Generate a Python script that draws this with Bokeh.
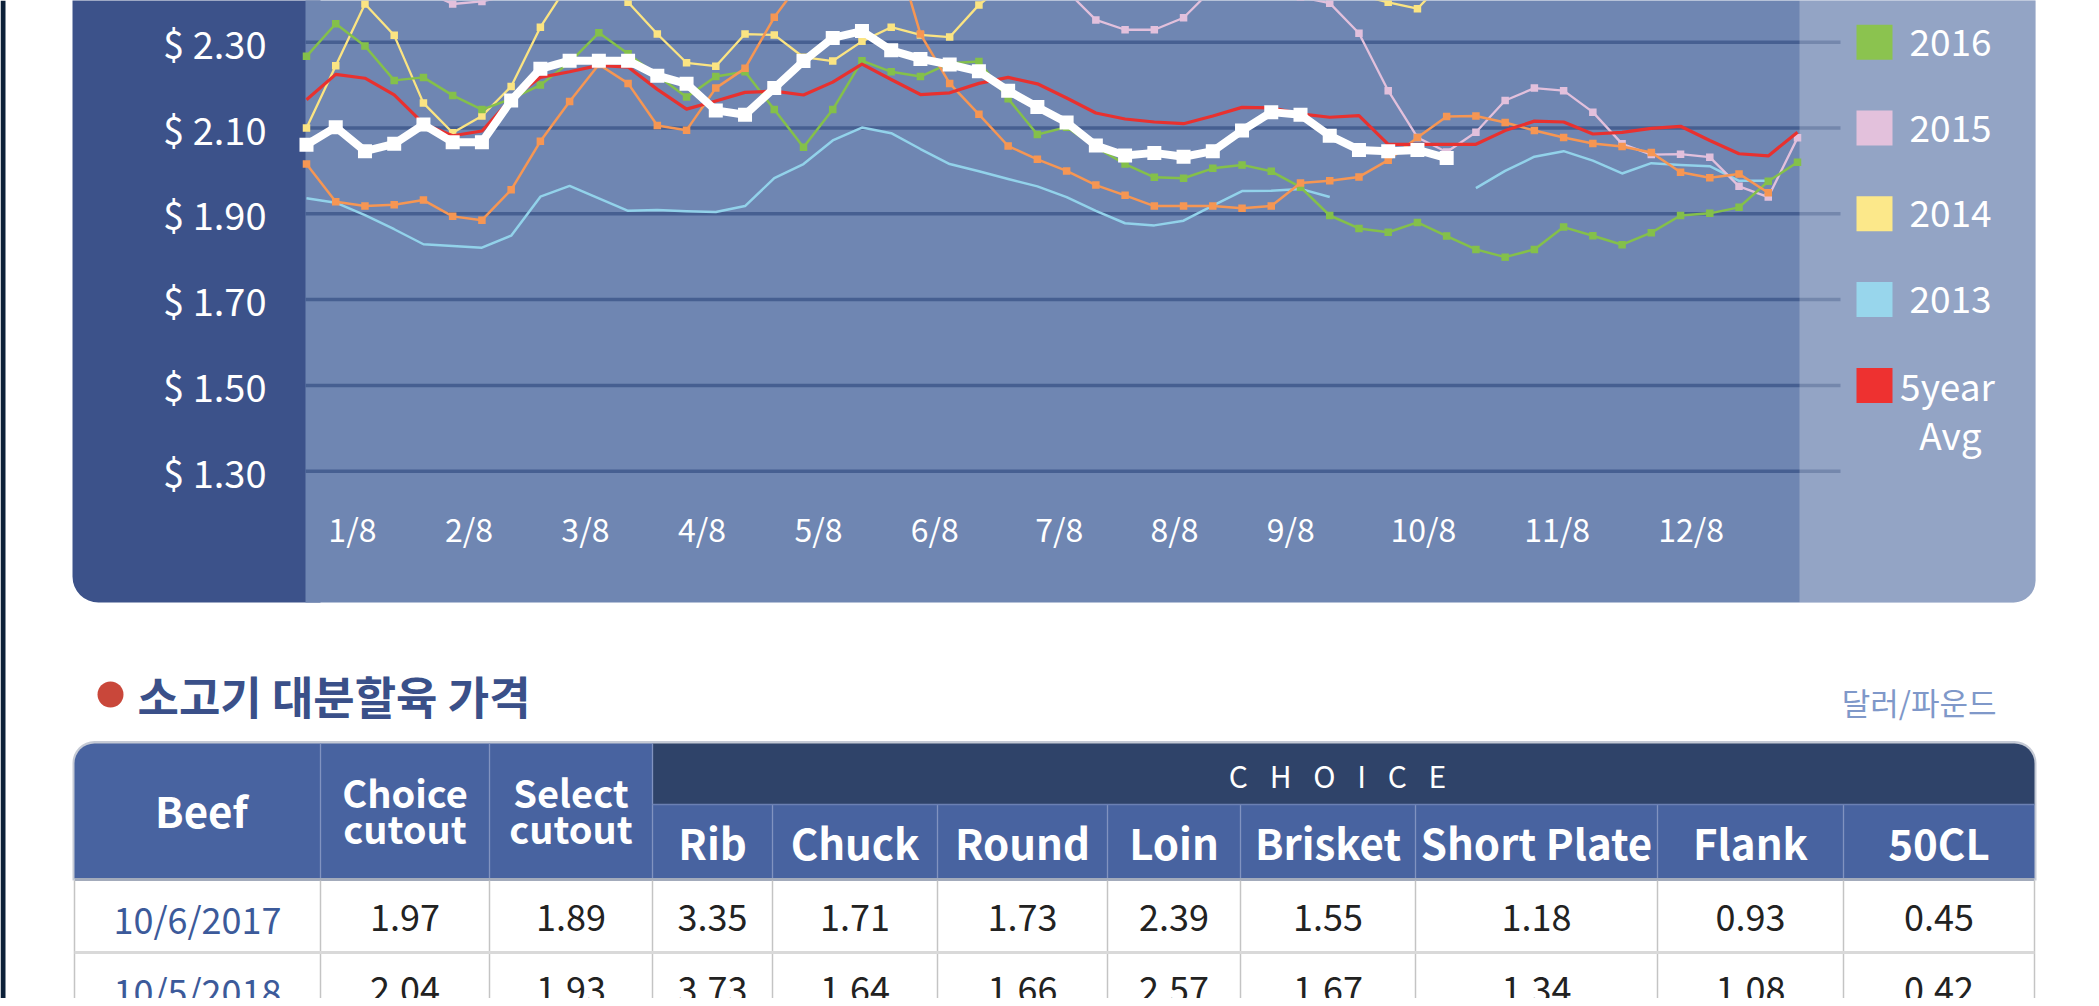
from bokeh.plotting import figure
from bokeh.models import Range1d
from bokeh.embed import file_html
from bokeh.resources import INLINE
from bokeh.core.properties import value

NaN = float("nan")
FONT = "Noto Sans CJK KR"

# ---------------- data ----------------
weeks = list(range(52))
month_labels = ["1/8", "2/8", "3/8", "4/8", "5/8", "6/8", "7/8", "8/8", "9/8", "10/8", "11/8", "12/8"]
month_pos = [1.57, 5.56, 9.54, 13.53, 17.51, 21.49, 25.75, 29.69, 33.67, 38.2, 42.78, 47.36]
price_ticks = [2.30, 2.10, 1.90, 1.70, 1.50, 1.30]
price_labels = ["$ 2.30", "$ 2.10", "$ 1.90", "$ 1.70", "$ 1.50", "$ 1.30"]

s2018 = [2.061, 2.102, 2.046, 2.063, 2.108, 2.067, 2.067, 2.164, 2.238, 2.257,
         2.257, 2.257, 2.222, 2.203, 2.141, 2.131, 2.193, 2.256, 2.310, 2.326,
         2.281, 2.261, 2.248, 2.232, 2.187, 2.149, 2.113, 2.059, 2.036, 2.042,
         2.033, 2.046, 2.094, 2.137, 2.131, 2.082, 2.049, 2.046, 2.049, 2.030] + [NaN] * 12
s2017 = [2.016, 1.928, 1.918, 1.921, 1.932, 1.894, 1.885, 1.956, 2.069, 2.162,
         2.248, 2.204, 2.106, 2.095, 2.193, 2.239, 2.358, 2.450, 2.550, 2.600,
         2.550, 2.319, 2.204, 2.132, 2.058, 2.027, 2.000, 1.967, 1.943, 1.918,
         1.918, 1.918, 1.913, 1.918, 1.972, 1.977, 1.986, 2.025, 2.078, 2.127,
         2.128, 2.113, 2.094, 2.078, 2.064, 2.057, 2.043, 1.997, 1.984, 1.993,
         1.949, NaN]
s2016 = [2.267, 2.343, 2.291, 2.211, 2.218, 2.176, 2.143, 2.168, 2.200, 2.253,
         2.322, 2.273, 2.222, 2.172, 2.220, 2.231, 2.143, 2.055, 2.143, 2.257,
         2.231, 2.220, 2.251, 2.255, 2.168, 2.085, 2.102, 2.055, 2.016, 1.985,
         1.983, 2.006, 2.014, 1.999, 1.962, 1.896, 1.866, 1.857, 1.880, 1.848,
         1.817, 1.799, 1.817, 1.869, 1.849, 1.828, 1.856, 1.896, 1.901, 1.915,
         1.976, 2.020]
s2015 = [2.450, 2.460, 2.470, 2.450, 2.420, 2.389, 2.395, 2.410, 2.450, 2.480,
         2.500, 2.520, 2.530, 2.540, 2.550, 2.560, 2.560, 2.550, 2.540, 2.530,
         2.520, 2.510, 2.500, 2.490, 2.470, 2.450, 2.420, 2.352, 2.329, 2.329,
         2.357, 2.425, 2.450, 2.440, 2.405, 2.391, 2.321, 2.187, 2.078, 2.044,
         2.090, 2.164, 2.193, 2.187, 2.137, 2.063, 2.038, 2.039, 2.032, 1.964,
         1.939, 2.077]
s2014 = [2.100, 2.245, 2.389, 2.316, 2.158, 2.089, 2.128, 2.197, 2.335, 2.440,
         2.450, 2.393, 2.319, 2.252, 2.244, 2.319, 2.317, 2.265, 2.256, 2.302,
         2.335, 2.317, 2.312, 2.387, 2.440, 2.480, 2.500, 2.520, 2.520, 2.500,
         2.480, 2.470, 2.460, 2.450, 2.430, 2.420, 2.410, 2.393, 2.378, 2.450,
         2.480, 2.500, 2.520, 2.540, 2.550, 2.560, 2.560, 2.550, 2.540, 2.530,
         2.520, 2.510]
s2013 = [1.936, 1.926, 1.897, 1.864, 1.829, 1.825, 1.821, 1.849, 1.940, 1.965,
         1.936, 1.907, 1.909, 1.906, 1.904, 1.918, 1.983, 2.016, 2.071, 2.101,
         2.088, 2.051, 2.016, 1.999, 1.981, 1.964, 1.939, 1.907, 1.878, 1.873,
         1.884, 1.919, 1.953, 1.954, 1.958, 1.939, NaN, NaN, NaN, NaN,
         1.960, 2.000, 2.033, 2.046, 2.024, 1.994, 2.018, 2.014, 2.011, 1.977,
         1.977, NaN]
s5yr = [2.166, 2.225, 2.216, 2.177, 2.110, 2.082, 2.093, 2.168, 2.218, 2.231,
        2.246, 2.242, 2.190, 2.144, 2.163, 2.183, 2.186, 2.177, 2.207, 2.249,
        2.213, 2.178, 2.182, 2.204, 2.218, 2.203, 2.170, 2.135, 2.121, 2.114,
        2.110, 2.128, 2.148, 2.147, 2.133, 2.125, 2.129, 2.062, 2.062, 2.062,
        2.062, 2.094, 2.116, 2.114, 2.086, 2.090, 2.099, 2.104, 2.071, 2.040,
        2.035, 2.090]

legend_labels = ["2016", "2015", "2014", "2013"]
legend_colors = ["#8bc34f", "#e3c1dc", "#fce88a", "#98d6ec"]
avg_label = ["5year", "Avg"]

table_head = ["Beef", "Choice cutout", "Select cutout", "Rib", "Chuck", "Round", "Loin",
              "Brisket", "Short Plate", "Flank", "50CL"]
row_dates = ["10/6/2017", "10/5/2018"]
row_2017 = [1.97, 1.89, 3.35, 1.71, 1.73, 2.39, 1.55, 1.18, 0.93, 0.45]
row_2018 = [2.04, 1.93, 3.73, 1.64, 1.66, 2.57, 1.67, 1.34, 1.08, 0.42]

# ---------------- layout (picture pixels) ----------------
W, H = 2091, 998
X0_PX, X51_PX = 306.0, 1797.0          # week 0 / week 51
Y230_PX, PX_PER_DOLLAR = 41.7, 429.0    # $2.30 gridline, scale
ppw = (X51_PX - X0_PX) / 51.0

x_start = -X0_PX / ppw
x_end = 51 + (W - X51_PX) / ppw
y_top = 2.30 + Y230_PX / PX_PER_DOLLAR
y_bot = 2.30 - (H - Y230_PX) / PX_PER_DOLLAR

p = figure(width=W, height=H, x_range=Range1d(x_start, x_end),
           y_range=Range1d(y_bot, y_top), output_backend="svg", toolbar_location=None,
           min_border=0, x_axis_location=None, y_axis_location=None, title=None)
p.grid.visible = False
p.outline_line_color = None
p.background_fill_color = "white"
p.border_fill_color = "white"
p.extra_x_ranges = {"px": Range1d(0, W)}
p.extra_y_ranges = {"px": Range1d(H, 0)}
PX = dict(x_range_name="px", y_range_name="px")

# page edge strip
p.quad(left=[0], right=[5], top=[0], bottom=[H], fill_color="#0c2038", line_color=None, **PX)

# ---------------- chart panel ----------------
p.quad(left=[72], right=[320], top=[-5], bottom=[602], fill_color="#3c528a", line_color=None,
       border_radius=(0, 0, 0, 26), **PX)
p.quad(left=[305], right=[2035], top=[-5], bottom=[602], fill_color="#6f86b2", line_color=None,
       border_radius=(0, 0, 22, 0), **PX)

grid_x0 = (305 - X0_PX) / ppw
grid_x1 = (1840 - X0_PX) / ppw
p.segment(x0=[grid_x0] * len(price_ticks), x1=[grid_x1] * len(price_ticks),
          y0=price_ticks, y1=price_ticks, line_color="#465f91", line_width=3.5)

# legend strip (lighter overlay)
p.quad(left=[1799], right=[2035], top=[-5], bottom=[602], fill_color="white", fill_alpha=0.25,
       line_color=None, border_radius=(0, 0, 22, 0), **PX)

# series
def series(vals, color, lw, msize=None):
    p.line(weeks, vals, line_color=color, line_width=lw, line_join="round")
    if msize:
        p.scatter(weeks, vals, marker="square", size=msize, fill_color=color, line_color=None)

series(s2013, "#92d2ea", 2.5)
series(s2014, "#fbe482", 2.3, 7.5)
series(s2015, "#e2c0dc", 2.3, 7.5)
series(s2016, "#84c04a", 2.5, 7.5)
series(s2017, "#f69653", 2.5, 7.5)
series(s5yr, "#e8312f", 3.2)
series(s2018, "white", 8, 14)

# axis labels
p.text(x=[266] * len(price_ticks), y=price_ticks, text=price_labels, x_range_name="px",
       text_align="right", text_baseline="middle", text_color="white",
       text_font=value(FONT), text_font_size="38px")
p.text(x=month_pos, y=[527] * len(month_pos), text=month_labels, y_range_name="px",
       text_align="center", text_baseline="middle", text_color="white",
       text_font=value(FONT), text_font_size="32px")

# legend
leg_y = [Y230_PX + i * 0.2 * PX_PER_DOLLAR for i in range(5)]
p.quad(left=[1856] * 4, right=[1892] * 4, top=[y - 17.5 for y in leg_y[:4]],
       bottom=[y + 17.5 for y in leg_y[:4]], fill_color=legend_colors, line_color=None, **PX)
p.quad(left=[1856], right=[1892], top=[leg_y[4] - 17.5], bottom=[leg_y[4] + 17.5],
       fill_color="#ee3130", line_color=None, **PX)
p.text(x=[1950] * 4, y=leg_y[:4], text=legend_labels, text_align="center",
       text_baseline="middle", text_color="white", text_font=value(FONT),
       text_font_size="37px", **PX)
p.text(x=[1947, 1950], y=[leg_y[4], leg_y[4] + 49], text=avg_label, text_align="center",
       text_baseline="middle", text_color="white", text_font=value(FONT),
       text_font_size="37px", **PX)

# ---------------- title ----------------
p.scatter(x=[110], y=[694], marker="circle", size=26, fill_color="#c9473a", line_color=None, **PX)
p.text(x=[137], y=[695], text=["소고기 대분할육 가격"], text_align="left", text_baseline="middle",
       text_color="#3a5089", text_font=value(FONT), text_font_style="bold",
       text_font_size="45px", **PX)
p.text(x=[1996], y=[701], text=["달러/파운드"], text_align="right", text_baseline="middle",
       text_color="#7f98c9", text_font=value(FONT), text_font_size="31px", **PX)

# ---------------- table ----------------
E = [74, 320, 489, 652, 772, 937, 1107, 1240, 1415, 1657, 1843, 2034]
T_TOP, T_MID, T_HB, T_R1, T_BOT = 743, 804, 878, 952, 1010
centers = [(E[i] + E[i + 1]) / 2 for i in range(len(E) - 1)]

p.quad(left=[72], right=[2036], top=[T_TOP - 2.5], bottom=[T_HB + 2], fill_color="#c5cad5",
       line_color=None, border_radius=(22, 22, 0, 0), **PX)
p.quad(left=[E[0]], right=[E[3]], top=[T_TOP], bottom=[T_HB], fill_color="#4863a0",
       line_color=None, border_radius=(20, 0, 0, 0), **PX)
p.quad(left=[E[3]], right=[E[-1]], top=[T_TOP], bottom=[T_MID], fill_color="#2f4369",
       line_color=None, border_radius=(0, 20, 0, 0), **PX)
p.quad(left=[E[3]], right=[E[-1]], top=[T_MID], bottom=[T_HB], fill_color="#4863a0",
       line_color=None, **PX)
p.quad(left=[E[0]], right=[E[-1]], top=[T_HB], bottom=[T_BOT], fill_color="white",
       line_color=None, **PX)
# header dividers
p.segment(x0=E[1:4], x1=E[1:4], y0=[T_TOP] * 3, y1=[T_HB] * 3, line_color="#8193c0",
          line_width=1.3, **PX)
p.segment(x0=E[4:-1], x1=E[4:-1], y0=[T_MID] * 7, y1=[T_HB] * 7, line_color="#8193c0",
          line_width=1.3, **PX)
p.segment(x0=[E[3]], x1=[E[-1]], y0=[T_MID], y1=[T_MID], line_color="#6b80b3",
          line_width=1.5, **PX)
p.segment(x0=[E[0]], x1=[E[-1]], y0=[T_HB + 1], y1=[T_HB + 1], line_color="#a3abbb",
          line_width=3, **PX)
# body lines
p.segment(x0=E, x1=E, y0=[T_HB + 2] * len(E), y1=[T_BOT] * len(E), line_color="#c4c4c4",
          line_width=1.5, **PX)
p.segment(x0=[E[0]], x1=[E[-1]], y0=[T_R1], y1=[T_R1], line_color="#d9d9d9",
          line_width=3, **PX)

hfont = dict(text_font=value(FONT), text_font_style="bold", text_color="white",
             text_align="center", text_baseline="middle", **PX)
p.text(x=[centers[0] + 4], y=[809], text=[table_head[0]], text_font_size="42px", **hfont)
two = [t.split(" ") for t in table_head[1:3]]
p.text(x=[centers[1], centers[2]], y=[791, 791], text=[two[0][0], two[1][0]],
       text_font_size="38px", **hfont)
p.text(x=[centers[1], centers[2]], y=[827, 827], text=[two[0][1], two[1][1]],
       text_font_size="38px", **hfont)
p.text(x=centers[3:], y=[841] * 8, text=table_head[3:], text_font_size="42px", **hfont)
p.text(x=[(E[3] + E[-1]) / 2 - 6], y=[774], text=["C\u2002\u00a0H\u2002\u00a0O\u2002\u00a0I\u2002\u00a0C\u2002\u00a0E"],
       text_font=value(FONT), text_font_size="30px", text_color="white",
       text_align="center", text_baseline="middle", **PX)

for yy, d, vals in [(917, row_dates[0], row_2017), (989, row_dates[1], row_2018)]:
    p.text(x=[centers[0]], y=[yy], text=[d], text_font=value(FONT), text_font_size="36px",
           text_color="#3c5a9a", text_align="center", text_baseline="middle", **PX)
    p.text(x=centers[1:], y=[yy] * len(vals), text=["%.2f" % v for v in vals],
           text_font=value(FONT), text_font_size="36px", text_color="#222222",
           text_align="center", text_baseline="middle", **PX)

open("out.html", "w").write(file_html(p, INLINE))
